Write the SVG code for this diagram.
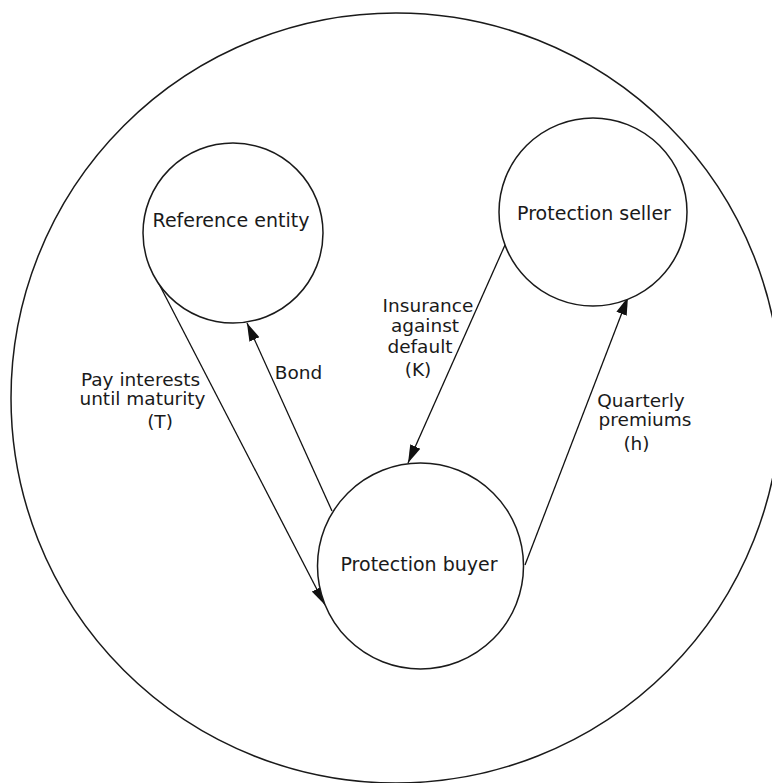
<svg xmlns="http://www.w3.org/2000/svg" width="772" height="783" viewBox="0 0 772 783">
<defs>
<marker id="arrow" markerUnits="userSpaceOnUse" markerWidth="20" markerHeight="12" refX="18" refY="5.5" orient="auto" viewBox="0 0 20 11">
<path d="M0,0 L18,5.5 L0,11 z" fill="#111"/>
</marker>
<style>
.node circle{fill:#fff;stroke:#1a1a1a;stroke-width:1.5}
.outer{fill:none;stroke:#1a1a1a;stroke-width:1.5}
text{font-family:"DejaVu Sans","Liberation Sans",sans-serif;font-size:19px;fill:#1a1a1a;text-anchor:middle}
.lbl{font-size:18.5px}
.edge{stroke:#111;stroke-width:1.3;fill:none;marker-end:url(#arrow)}
</style>
</defs>
<rect width="772" height="783" fill="#fff"/>
<circle class="outer" cx="396" cy="398" r="385"/>
<g id="connectors">
<line class="edge" x1="158" y1="282" x2="325" y2="605"/>
<line class="edge" x1="332" y1="511" x2="247" y2="323"/>
<line class="edge" x1="505" y1="245" x2="408" y2="463"/>
<line class="edge" x1="525" y1="565" x2="628" y2="297"/>
</g>
<g id="node-reference" class="node">
<circle cx="233" cy="233" r="90"/>
<text x="231" y="227">Reference entity</text>
</g>
<g id="node-seller" class="node">
<circle cx="593" cy="212" r="94"/>
<text x="594" y="220">Protection seller</text>
</g>
<g id="node-buyer" class="node">
<circle cx="420.5" cy="566" r="103"/>
<text x="419" y="571">Protection buyer</text>
</g>
<g id="labels">
<text class="lbl" x="140.5" y="386">Pay interests</text>
<text class="lbl" x="142.5" y="405">until maturity</text>
<text class="lbl" x="160" y="428">(T)</text>
<text class="lbl" x="298.5" y="379">Bond</text>
<text class="lbl" x="428" y="312">Insurance</text>
<text class="lbl" x="425" y="332">against</text>
<text class="lbl" x="420" y="353">default</text>
<text class="lbl" x="418" y="376">(K)</text>
<text class="lbl" x="641" y="407">Quarterly</text>
<text class="lbl" x="645" y="426">premiums</text>
<text class="lbl" x="636.5" y="450">(h)</text>
</g>
</svg>
